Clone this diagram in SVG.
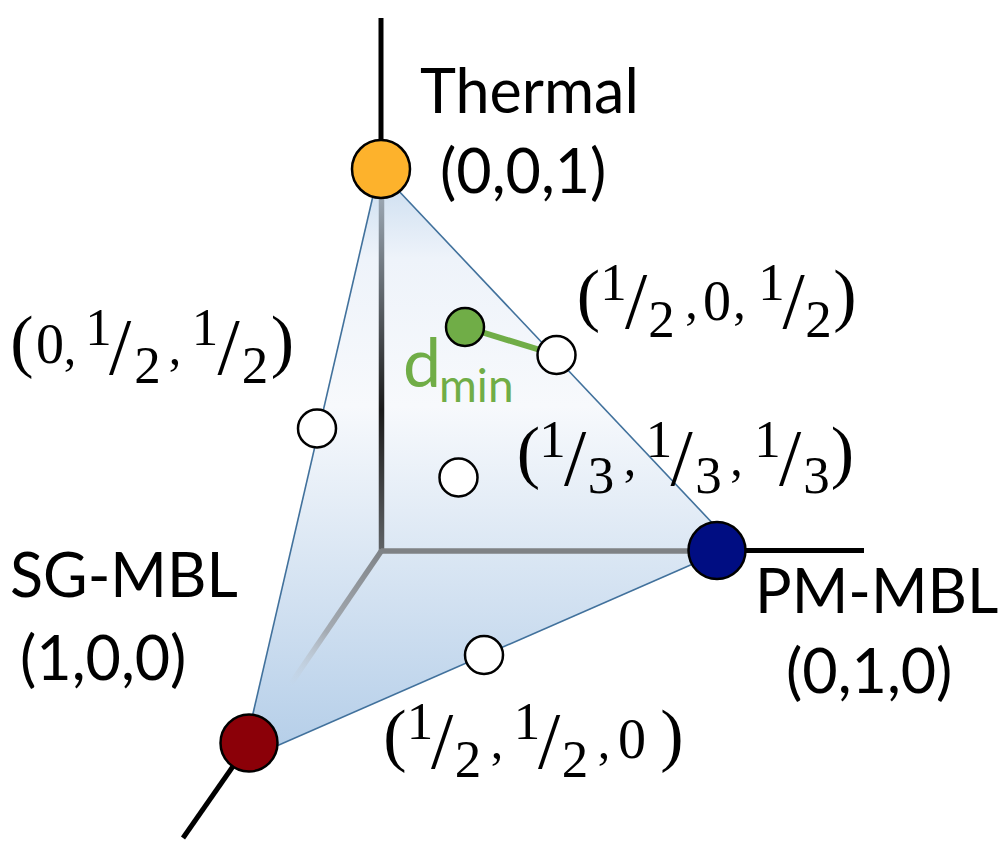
<svg xmlns="http://www.w3.org/2000/svg" width="1008" height="852" viewBox="0 0 1008 852">
<defs>
<linearGradient id="triFill" gradientUnits="userSpaceOnUse" x1="0" y1="170" x2="0" y2="761">
<stop offset="0" stop-color="#c9dcef"/>
<stop offset="0.15" stop-color="#eef3fa"/>
<stop offset="0.4" stop-color="#f7f9fc"/>
<stop offset="1" stop-color="#b3cde8"/>
</linearGradient>
<linearGradient id="vAxis" gradientUnits="userSpaceOnUse" x1="0" y1="198" x2="0" y2="551">
<stop offset="0" stop-color="#9aa6b2"/>
<stop offset="0.6" stop-color="#1a1a1a"/>
<stop offset="1" stop-color="#606366"/>
</linearGradient>
<linearGradient id="dAxis" gradientUnits="userSpaceOnUse" x1="381" y1="551" x2="290" y2="685">
<stop offset="0" stop-color="#7f8387" stop-opacity="1"/>
<stop offset="0.6" stop-color="#9a9ea3" stop-opacity="0.8"/>
<stop offset="1" stop-color="#c8ccd0" stop-opacity="0"/>
</linearGradient>
</defs>
<style>
.lbl{font-family:Lato,"Liberation Sans",Arial,sans-serif;font-size:61px;fill:#000}
.fr{font-family:"Liberation Serif","Times New Roman",serif;fill:#000;text-anchor:middle}
.p{font-size:70px}
.s{font-size:80px}
.d{font-size:53px}
.z{font-size:56px}
.c{font-size:50px}
.node{stroke:#000;stroke-width:2.5}
.pt{fill:#fff;stroke:#000;stroke-width:2.5}
.edge{stroke:#41719c;stroke-width:1.6;fill:none}
.axis{stroke:#000;stroke-width:5;fill:none}
</style>

<g id="triangle">
<polygon points="379,170 734,546 242,761" fill="url(#triFill)" stroke="none"/>
</g>

<g id="connectors">
<line class="axis" x1="381" y1="18" x2="381" y2="145"/>
<line class="axis" x1="740" y1="550.5" x2="864" y2="550.5"/>
<line class="axis" x1="236" y1="762" x2="183" y2="838"/>
<line x1="381.5" y1="198" x2="381.5" y2="553" stroke="url(#vAxis)" stroke-width="5.5"/>
<line x1="381" y1="551" x2="700" y2="551" stroke="#7f8285" stroke-width="5.5"/>
<line x1="382" y1="550" x2="290" y2="685" stroke="url(#dAxis)" stroke-width="5.5"/>
<line class="edge" x1="379" y1="170" x2="734" y2="546"/>
<line class="edge" x1="734" y1="546" x2="242" y2="761"/>
<line class="edge" x1="242" y1="761" x2="379" y2="170"/>
<line x1="465" y1="327" x2="556.5" y2="355" stroke="#70ad47" stroke-width="6"/>
</g>

<g id="thermal">
<circle class="node" cx="381" cy="169" r="29" fill="#fdb22c"/>
<text class="lbl" x="420" y="113">Thermal</text>
<text class="lbl" x="440" y="193">(0,0,1)</text>
</g>

<g id="pm-mbl">
<circle class="node" cx="717" cy="550.5" r="28.5" fill="#000d82"/>
<text class="lbl" x="755" y="613">PM-MBL</text>
<text class="lbl" x="786" y="693">(0,1,0)</text>
</g>

<g id="sg-mbl">
<circle class="node" cx="249" cy="743" r="28.5" fill="#8b0008"/>
<text class="lbl" x="10" y="597">SG-MBL</text>
<text class="lbl" x="20" y="680">(1,0,0)</text>
</g>

<g id="point-0-half-half">
<circle class="pt" cx="317" cy="428.5" r="19"/>
<text class="fr">
<tspan class="p" x="22" y="364">(</tspan><tspan class="z" x="50" y="363">0</tspan><tspan class="c" x="70" y="364">,</tspan><tspan class="d" x="98.5" y="345">1</tspan><tspan class="s" x="120" y="374">/</tspan><tspan class="d" x="147.5" y="383">2</tspan><tspan class="c" x="175" y="364">,</tspan><tspan class="d" x="205" y="345">1</tspan><tspan class="s" x="228.5" y="374">/</tspan><tspan class="d" x="255" y="383">2</tspan><tspan class="p" x="282.5" y="364">)</tspan>
</text>
</g>

<g id="point-half-0-half">
<circle class="pt" cx="556.5" cy="355" r="19"/>
<text class="fr">
<tspan class="p" x="588.5" y="318">(</tspan><tspan class="d" x="613.5" y="300">1</tspan><tspan class="s" x="636" y="328">/</tspan><tspan class="d" x="661.5" y="337">2</tspan><tspan class="c" x="691.5" y="318">,</tspan><tspan class="z" x="717" y="320">0</tspan><tspan class="c" x="739.5" y="318">,</tspan><tspan class="d" x="771.5" y="300">1</tspan><tspan class="s" x="793.5" y="328">/</tspan><tspan class="d" x="818.5" y="337">2</tspan><tspan class="p" x="845" y="318">)</tspan>
</text>
</g>

<g id="point-third">
<circle class="pt" cx="458.5" cy="477.5" r="19"/>
<text class="fr">
<tspan class="p" x="528.5" y="475">(</tspan><tspan class="d" x="552.5" y="457">1</tspan><tspan class="s" x="575" y="485">/</tspan><tspan class="d" x="601" y="493">3</tspan><tspan class="c" x="630" y="475">,</tspan><tspan class="d" x="659" y="457">1</tspan><tspan class="s" x="681.5" y="485">/</tspan><tspan class="d" x="708.5" y="493">3</tspan><tspan class="c" x="736.5" y="475">,</tspan><tspan class="d" x="767.5" y="457">1</tspan><tspan class="s" x="790" y="485">/</tspan><tspan class="d" x="816.5" y="493">3</tspan><tspan class="p" x="842.5" y="475">)</tspan>
</text>
</g>

<g id="point-half-half-0">
<circle class="pt" cx="484" cy="655" r="19"/>
<text class="fr">
<tspan class="p" x="395" y="758">(</tspan><tspan class="d" x="420" y="739">1</tspan><tspan class="s" x="442" y="768">/</tspan><tspan class="d" x="468" y="777">2</tspan><tspan class="c" x="497" y="758">,</tspan><tspan class="d" x="527" y="739">1</tspan><tspan class="s" x="549" y="768">/</tspan><tspan class="d" x="575" y="777">2</tspan><tspan class="c" x="604" y="758">,</tspan><tspan class="z" x="632" y="758">0</tspan><tspan class="p" x="672" y="758">)</tspan>
</text>
</g>

<g id="green-point">
<circle class="node" cx="465" cy="327" r="19" fill="#70ad47"/>
<text font-family="Lato, Liberation Sans, Arial, sans-serif" fill="#70ad47"><tspan x="403" y="387" font-size="68">d</tspan><tspan x="439" y="402" font-size="46">min</tspan></text>
</g>
</svg>
